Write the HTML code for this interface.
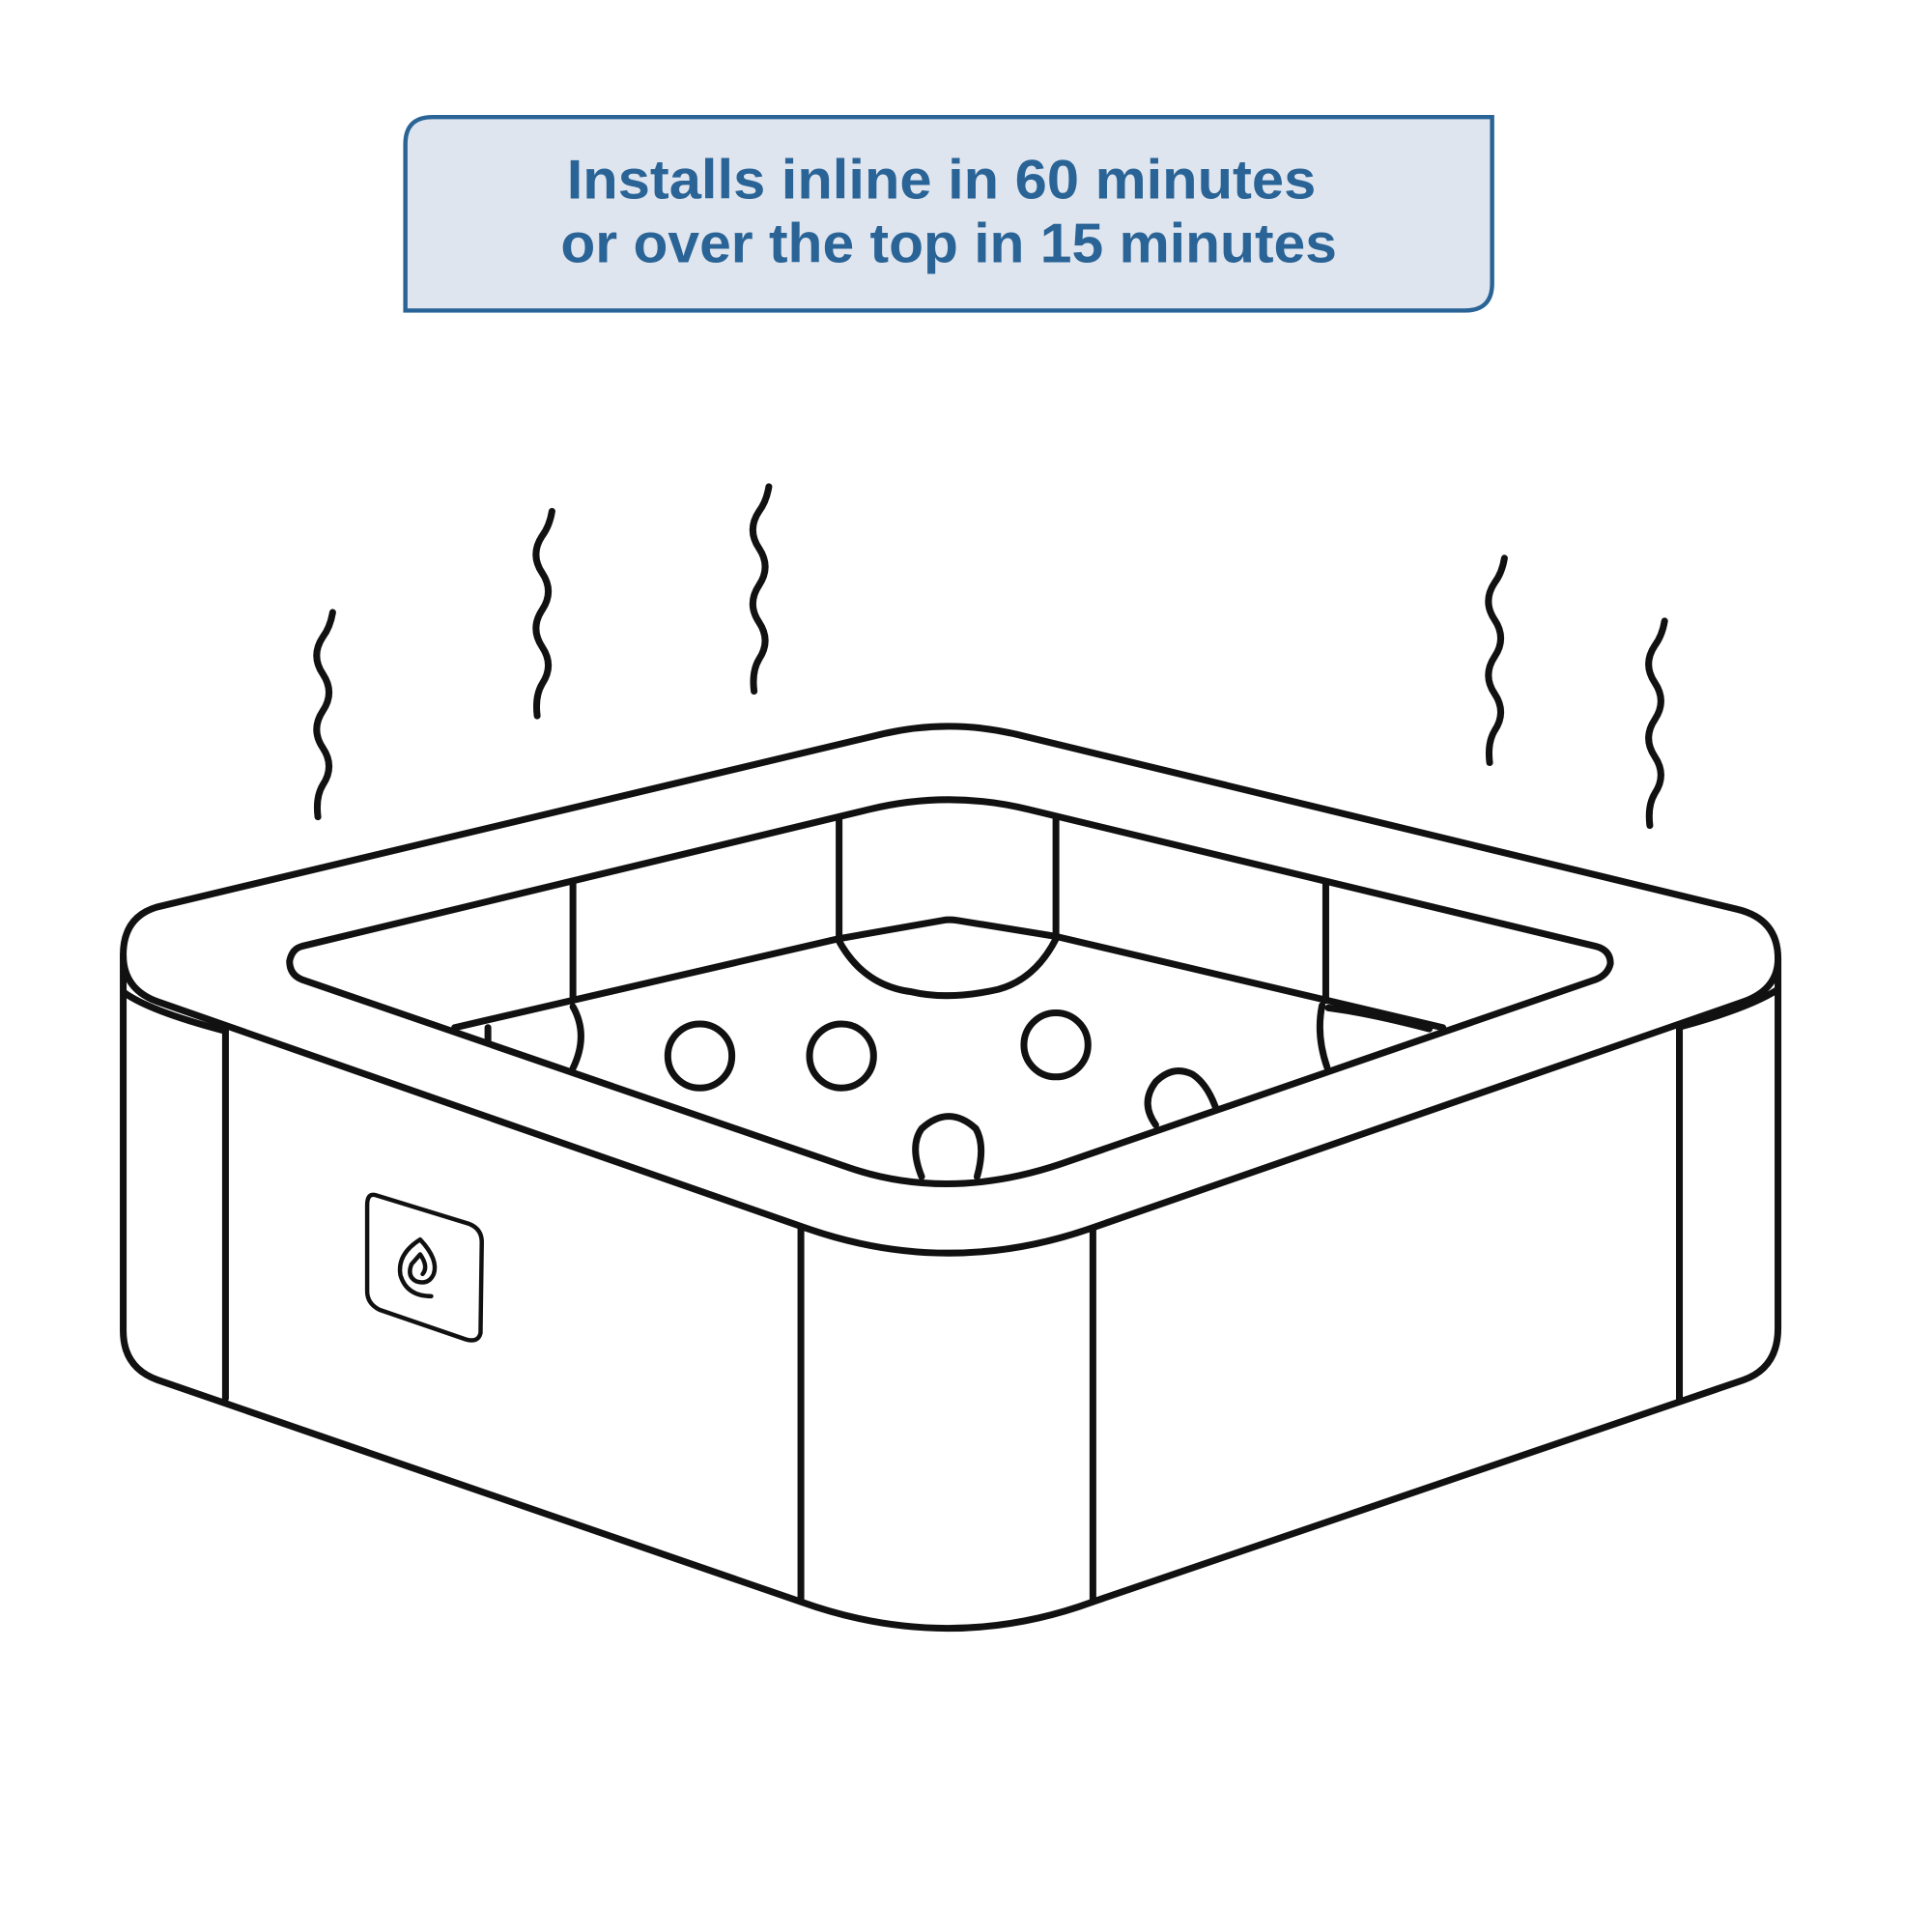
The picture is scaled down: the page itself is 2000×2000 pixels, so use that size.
<!DOCTYPE html>
<html><head><style>html,body{margin:0;padding:0;background:#fff;overflow:hidden}svg{display:block}</style></head>
<body>
<svg width="2000" height="2000" viewBox="0 0 1568 1568" xmlns="http://www.w3.org/2000/svg">
<path d="M351 95 L1211 95 L1211 230 Q1211 252 1189 252 L329 252 L329 117 Q329 95 351 95 Z" fill="#dfe5ef" stroke="#2a6496" stroke-width="3.5"/>
<g font-family="Liberation Sans, sans-serif" font-weight="bold" font-size="45" fill="#2a6496" text-anchor="middle">
<text x="764" y="161" textLength="608" lengthAdjust="spacingAndGlyphs">Installs inline in 60 minutes</text>
<text x="770" y="213" textLength="630" lengthAdjust="spacingAndGlyphs">or over the top in 15 minutes</text>
</g>
<g fill="none" stroke="#111" stroke-width="5.5" stroke-linecap="round" stroke-linejoin="round">
<path transform="translate(270,497)" d="M0 0 Q-2 12 -8 20 Q-18 35 -8 50 Q2 65 -8 80 Q-18 95 -8 110 Q2 125 -8 140 Q-14 150 -12 166"/>
<path transform="translate(448,415)" d="M0 0 Q-2 12 -8 20 Q-18 35 -8 50 Q2 65 -8 80 Q-18 95 -8 110 Q2 125 -8 140 Q-14 150 -12 166"/>
<path transform="translate(624,395)" d="M0 0 Q-2 12 -8 20 Q-18 35 -8 50 Q2 65 -8 80 Q-18 95 -8 110 Q2 125 -8 140 Q-14 150 -12 166"/>
<path transform="translate(1221,453)" d="M0 0 Q-2 12 -8 20 Q-18 35 -8 50 Q2 65 -8 80 Q-18 95 -8 110 Q2 125 -8 140 Q-14 150 -12 166"/>
<path transform="translate(1351,504)" d="M0 0 Q-2 12 -8 20 Q-18 35 -8 50 Q2 65 -8 80 Q-18 95 -8 110 Q2 125 -8 140 Q-14 150 -12 166"/>

<path d="M128 736 L715 596 Q770 583 825 596 L1410 738 Q1443 746 1443 778 Q1443 803 1415 813 L885 997 Q770 1037 655 997 L128 813 Q100 803 100 775 Q100 744 128 736 Z"/>
<path d="M245 768 L705 657 Q770 641 835 657 L1295 768 Q1307 771 1307 782 Q1305 791 1295 795 L860 945 Q770 975 690 948 L245 795 Q235 791 235 780 Q237 770 245 768 Z"/>
<path d="M369 834 L680 762 L765 747 Q770 746 777 747 L857 760 L1171 834"/>
<path d="M680 762 Q700 800 740 805 Q770 812 810 803 Q840 795 857 762"/>
<path d="M681 665 L681 760 M857 663 L857 760 M465 717 L465 812 M1076 716 L1076 812"/>
<path d="M465 817 Q478 840 465 867 M1073 816 Q1068 840 1077 866 M1078 818 Q1110 822 1160 835 M396 834 L396 845"/>
<circle cx="568" cy="857" r="26"/>
<circle cx="683" cy="857" r="26"/>
<circle cx="857" cy="848" r="26"/>
<path d="M748 955 Q738 930 748 916 Q770 896 792 916 Q800 930 793 955"/>
<path d="M938 913 Q925 895 938 878 Q952 864 968 872 Q980 880 987 900"/>

<path d="M100 775 L100 1080 Q100 1110 128 1120 L650 1300 Q770 1343 887 1300 L1415 1120 Q1443 1110 1443 1078 L1443 778"/>
<path d="M183 835 L183 1135 M650 997 L650 1300 M887 997 L887 1300 M1363 833 L1363 1137"/>
<path d="M100 805 Q120 820 180 836 M1443 803 Q1420 818 1365 833"/>
</g>
<g fill="none" stroke="#111" stroke-width="3.5" stroke-linecap="round" stroke-linejoin="round">
<path d="M305 970 L380 993 Q391 997 391 1008 L390 1082 Q388 1090 378 1087 L308 1063 Q298 1058 298 1048 L298 978 Q298 968 305 970 Z"/>
<path d="M341 1006 Q322 1018 325 1035 Q330 1052 350 1052 M341 1006 Q356 1022 352 1034 Q348 1043 338 1040 Q330 1036 334 1026 L341 1018 Q348 1028 343 1034"/>
</g>
</svg>
</body></html>
